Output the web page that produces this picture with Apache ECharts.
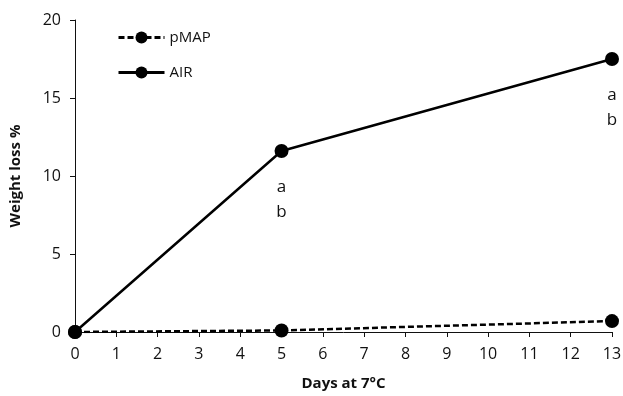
<!DOCTYPE html>
<html>
<head>
<meta charset="utf-8">
<script src="https://cdn.jsdelivr.net/npm/echarts@6/dist/echarts.min.js"></script>
<style>html,body{margin:0;padding:0;background:#fff}#chart{width:623px;height:396px}</style>
</head>
<body>
<div id="chart"></div>
<script>
// Weight loss over storage days
const days = [0, 5, 13];
const pmapLoss = [0, 0.1, 0.7];
const airLoss = [0, 11.6, 17.5];
const airLabels = ['', 'a\nb', 'a\nb'];

const font = '"Open Sans", sans-serif';
const ink = '#111';
const chart = echarts.init(document.getElementById('chart'));

function pts(xs, ys) { return xs.map((x, i) => [x, ys[i]]); }

chart.setOption({
  animation: false,
  grid: { left: 75, right: 11, top: 20, bottom: 64, containLabel: false, outerBoundsMode: 'none' },
  legend: {
    orient: 'vertical', left: 112, top: 25, itemGap: 20,
    itemWidth: 46, itemHeight: 15,
    lineStyle: { width: 3 },
    textStyle: { fontFamily: font, fontSize: 15, color: ink },
    data: ['pMAP', 'AIR']
  },
  xAxis: {
    type: 'value', min: 0, max: 13, interval: 1,
    name: 'Days at 7°C', nameLocation: 'middle', nameGap: 44,
    nameTextStyle: { fontFamily: font, fontSize: 15, fontWeight: 'bold', color: ink },
    axisLine: { lineStyle: { color: ink, width: 1 } },
    axisTick: { lineStyle: { color: ink }, length: 5 },
    axisLabel: { fontFamily: font, fontSize: 16, color: ink, margin: 14 },
    splitLine: { show: false }
  },
  yAxis: {
    type: 'value', min: 0, max: 20, interval: 5,
    name: 'Weight loss %', nameLocation: 'middle', nameGap: 52,
    nameTextStyle: { fontFamily: font, fontSize: 15, fontWeight: 'bold', color: ink },
    axisLine: { show: true, lineStyle: { color: ink, width: 1 } },
    axisTick: { show: true, lineStyle: { color: ink }, length: 5 },
    axisLabel: { fontFamily: font, fontSize: 16, color: ink, margin: 14 },
    splitLine: { show: false }
  },
  series: [
    {
      name: 'pMAP', type: 'line', data: pts(days, pmapLoss),
      symbol: 'circle', symbolSize: 14,
      lineStyle: { color: '#000', width: 2.5, type: [6, 3] },
      itemStyle: { color: '#000' }, z: 3
    },
    {
      name: 'AIR', type: 'line', data: pts(days, airLoss),
      symbol: 'circle', symbolSize: 14,
      lineStyle: { color: '#000', width: 2.5 },
      itemStyle: { color: '#000' }, z: 2,
      label: {
        show: true, position: 'bottom', distance: 17,
        fontFamily: font, fontSize: 17, color: ink, lineHeight: 25,
        formatter: p => airLabels[p.dataIndex]
      }
    }
  ]
});
</script>
</body>
</html>
